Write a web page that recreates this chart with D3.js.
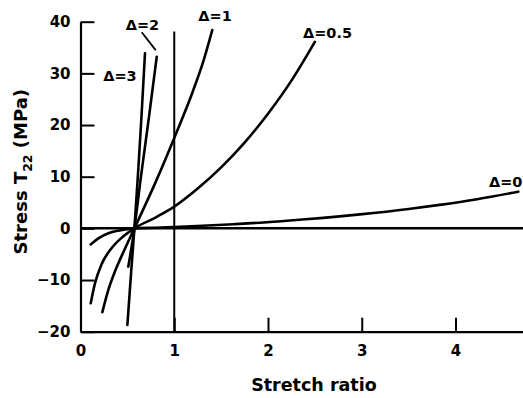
<!DOCTYPE html>
<html>
<head>
<meta charset="utf-8">
<script src="https://cdn.jsdelivr.net/npm/d3@7"></script>
<style>
  html, body { margin: 0; padding: 0; background: #fff; }
  svg { display: block; }
  text { font-family: "DejaVu Sans", sans-serif; font-weight: bold; fill: #000; }
</style>
</head>
<body>
<svg id="chart" width="523" height="398"></svg>
<script>
// Stress–stretch curves for several values of the anisotropy parameter Δ
const xTicks = [0, 1, 2, 3, 4];
const yTicks = [-20, -10, 0, 10, 20, 30, 40];

// [stretch ratio, stress T22 in MPa]
const delta0 = [[0.109,-3.1],[0.2,-1.85],[0.297,-0.95],[0.4,-0.45],[0.475,-0.22],[0.575,0],
  [0.8,0.13],[1.0,0.27],[1.3,0.5],[1.63,0.8],[1.915,1.1],[2.4,1.75],[2.98,2.7],
  [3.5,3.75],[3.83,4.55],[4.23,5.65],[4.67,7.1]];
const delta05 = [[0.109,-14.5],[0.155,-10.6],[0.226,-6.9],[0.333,-3.8],[0.44,-1.8],[0.575,0],
  [0.8,2.1],[1.0,4.2],[1.25,7.7],[1.5,11.8],[1.75,16.6],[2.0,22.2],[2.25,28.6],[2.5,36.1]];
const delta1 = [[0.233,-16.2],[0.297,-11.9],[0.368,-8.3],[0.475,-3.9],[0.575,0],
  [0.8,8.9],[1.0,17.5],[1.2,26.6],[1.31,32.3],[1.406,38.4]];
const delta2 = [[0.51,-7.4],[0.575,0],[0.645,10],[0.73,21.5],[0.813,33.2]];
const delta3 = [[0.50,-18.7],[0.54,-8.5],[0.575,0],[0.615,11],[0.65,21.5],[0.688,33.9]];

const seriesList = [delta0, delta05, delta1, delta2, delta3];

// Curve labels: text, anchor point (data units), text-anchor
const labels = [
  { text: "Δ=3",   x: 0.421, y: 28.6,  anchor: "middle" },
  { text: "Δ=2",   x: 0.661, y: 38.3,  anchor: "middle" },
  { text: "Δ=1",   x: 1.435, y: 40.1,  anchor: "middle" },
  { text: "Δ=0.5", x: 2.635, y: 36.75, anchor: "middle" },
  { text: "Δ=0",   x: 4.357, y: 8.0,   anchor: "start" }
];
// Leader from the Δ=2 label to its curve
const leaderDelta2 = [[0.653, 37.95], [0.802, 34.5]];
// Reference lines: unit stretch and zero stress
const unitStretch = [[1, -20], [1, 38.1]];
const zeroStress = [[0, 0], [4.72, 0]];

const svg = d3.select("#chart");
const x = d3.scaleLinear().domain([0, 4.72]).range([80.5, 523]);
const y = d3.scaleLinear().domain([-20, 40]).range([331.7, 21.7]);

const line = d3.line().x(d => x(d[0])).y(d => y(d[1]));
const curve = d3.line().x(d => x(d[0])).y(d => y(d[1])).curve(d3.curveMonotoneX);

// Axes with inward ticks
const yAxis = d3.axisLeft(y).tickValues(yTicks).tickSizeInner(-14).tickSizeOuter(0)
  .tickPadding(10).tickFormat(d => d < 0 ? "\u2212" + Math.abs(d) : d);
const gy = svg.append("g").attr("transform", `translate(${x(0)},0)`).call(yAxis);

const xAxis = d3.axisBottom(x).tickValues(xTicks).tickSizeInner(-14).tickSizeOuter(0)
  .tickPadding(14).tickFormat(d3.format("d"));
const gx = svg.append("g").attr("transform", `translate(0,${y(-20)})`).call(xAxis);

[gx, gy].forEach(g => {
  g.select(".domain").attr("stroke", "#000").attr("stroke-width", 2.2);
  g.selectAll(".tick line").attr("stroke", "#000").attr("stroke-width", 2);
  g.selectAll(".tick text").attr("font-size", 15)
    .attr("font-family", "DejaVu Sans, sans-serif").attr("font-weight", "bold").attr("fill", "#000");
});

// Reference lines
svg.append("path").datum(unitStretch).attr("d", line)
  .attr("fill", "none").attr("stroke", "#000").attr("stroke-width", 2);
svg.append("path").datum(zeroStress).attr("d", line)
  .attr("fill", "none").attr("stroke", "#000").attr("stroke-width", 2.5);

// Curves
svg.append("g").selectAll("path").data(seriesList).join("path")
  .attr("d", curve)
  .attr("fill", "none").attr("stroke", "#000").attr("stroke-width", 2.6)
  .attr("stroke-linecap", "round").attr("stroke-linejoin", "round");

// Labels
svg.append("g").selectAll("text").data(labels).join("text")
  .attr("x", d => x(d.x)).attr("y", d => y(d.y))
  .attr("text-anchor", d => d.anchor)
  .attr("font-size", 14.5)
  .text(d => d.text);
svg.append("path").datum(leaderDelta2).attr("d", line)
  .attr("fill", "none").attr("stroke", "#000").attr("stroke-width", 1.8);

// Axis titles
svg.append("text").attr("x", x(2.49)).attr("y", 391)
  .attr("text-anchor", "middle").attr("font-size", 17.5).text("Stretch ratio");

const yTitle = svg.append("text")
  .attr("transform", `translate(27,${(y(-20) + y(40)) / 2 - 5}) rotate(-90)`)
  .attr("text-anchor", "middle").attr("font-size", 18);
yTitle.append("tspan").text("Stress T");
yTitle.append("tspan").attr("font-size", 12.5).attr("dy", 5).text("22");
yTitle.append("tspan").attr("dy", -5).text(" (MPa)");
</script>
</body>
</html>
